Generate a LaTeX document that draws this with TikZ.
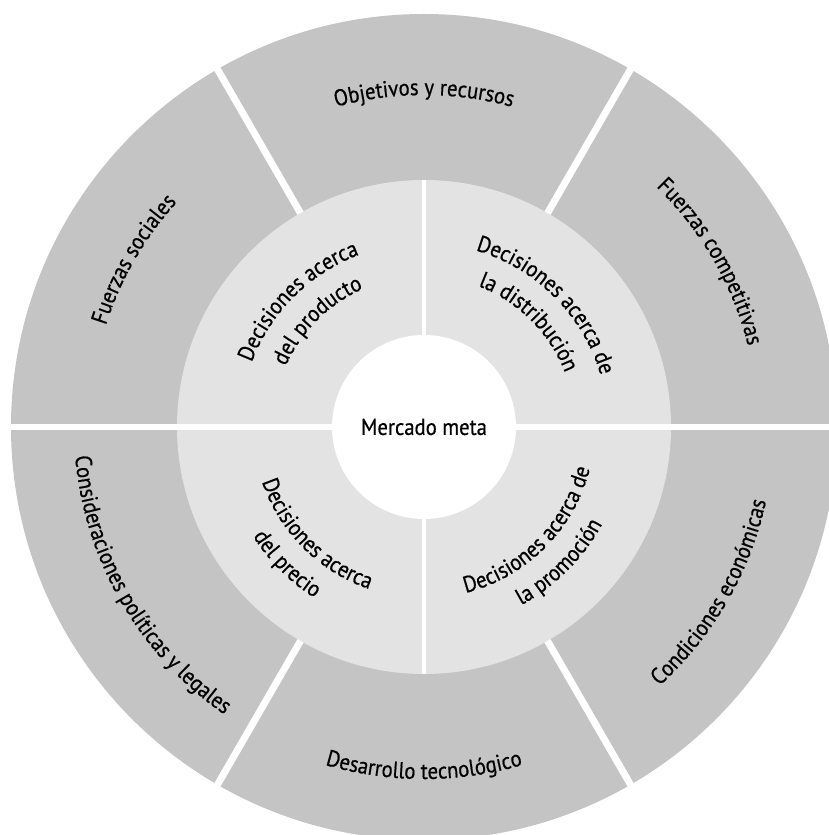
\documentclass[tikz,border=0pt]{standalone}
\usepackage{fontspec}
\setmainfont[FakeStretch=0.9,FakeBold=0.6]{PT Sans}
\usetikzlibrary{decorations.text,calc}

\definecolor{outerring}{gray}{0.77}
\definecolor{midring}{gray}{0.89}

\tikzset{
  gap/.style={draw=white, line cap=butt},
  ringtext/.style={decorate, decoration={text along path, text={#1}, text align=center}}
}

\begin{document}
\begin{tikzpicture}[x=1pt,y=1pt,font=\fontsize{23}{27}\selectfont]
\fontsize{23}{27}\selectfont
\useasboundingbox (0,0) rectangle (829,835);
\clip (0,0) rectangle (829,835);
\coordinate (c) at (424,408);

% rings
\fill[outerring] (c) circle[radius=413];
\fill[midring] (c) circle[radius=247];

% separators
\draw[gap, line width=6pt] ($(c)+(-420,0)$) -- ($(c)+(420,0)$);
\foreach \a in {60,120,240,300}
  \draw[gap, line width=7pt] ($(c)+(\a:247)$) -- ($(c)+(\a:420)$);
\draw[gap, line width=4pt] ($(c)+(0,92)$) -- ($(c)+(0,247)$);
\draw[gap, line width=4pt] ($(c)+(0,-92)$) -- ($(c)+(0,-247)$);

% centre
\fill[white] (c) circle[radius=92];
\node (meta) at (c) {Mercado meta};

% outer ring labels (upper half clockwise, lower half counter-clockwise)
\path[ringtext={Objetivos y recursos}] ($(c)+(120:332)$) arc[start angle=120, end angle=60, radius=332];
\path[ringtext={Fuerzas competitivas}] ($(c)+(60:334)$) arc[start angle=60, end angle=0, radius=334];
\path[ringtext={Fuerzas sociales}] ($(c)+(180:334)$) arc[start angle=180, end angle=120, radius=334];
\path[ringtext={Consideraciones políticas y legales}] ($(c)+(180:350)$) arc[start angle=180, end angle=240, radius=350];
\path[ringtext={Desarrollo tecnológico}] ($(c)+(240:352)$) arc[start angle=240, end angle=300, radius=352];
\path[ringtext={Condiciones económicas}] ($(c)+(300:350)$) arc[start angle=300, end angle=360, radius=350];

% inner ring labels
\path[ringtext={Decisiones acerca}] ($(c)+(180:184)$) arc[start angle=180, end angle=90, radius=184];
\path[ringtext={del producto}] ($(c)+(180:151)$) arc[start angle=180, end angle=90, radius=151];
\path[ringtext={Decisiones acerca de}] ($(c)+(90:184)$) arc[start angle=90, end angle=0, radius=184];
\path[ringtext={la distribución}] ($(c)+(90:151)$) arc[start angle=90, end angle=0, radius=151];
\path[ringtext={Decisiones acerca}] ($(c)+(180:171)$) arc[start angle=180, end angle=270, radius=171];
\path[ringtext={del precio}] ($(c)+(180:203)$) arc[start angle=180, end angle=270, radius=203];
\path[ringtext={Decisiones acerca de}] ($(c)+(270:171)$) arc[start angle=270, end angle=360, radius=171];
\path[ringtext={la promoción}] ($(c)+(270:203)$) arc[start angle=270, end angle=360, radius=203];
\end{tikzpicture}
\end{document}
